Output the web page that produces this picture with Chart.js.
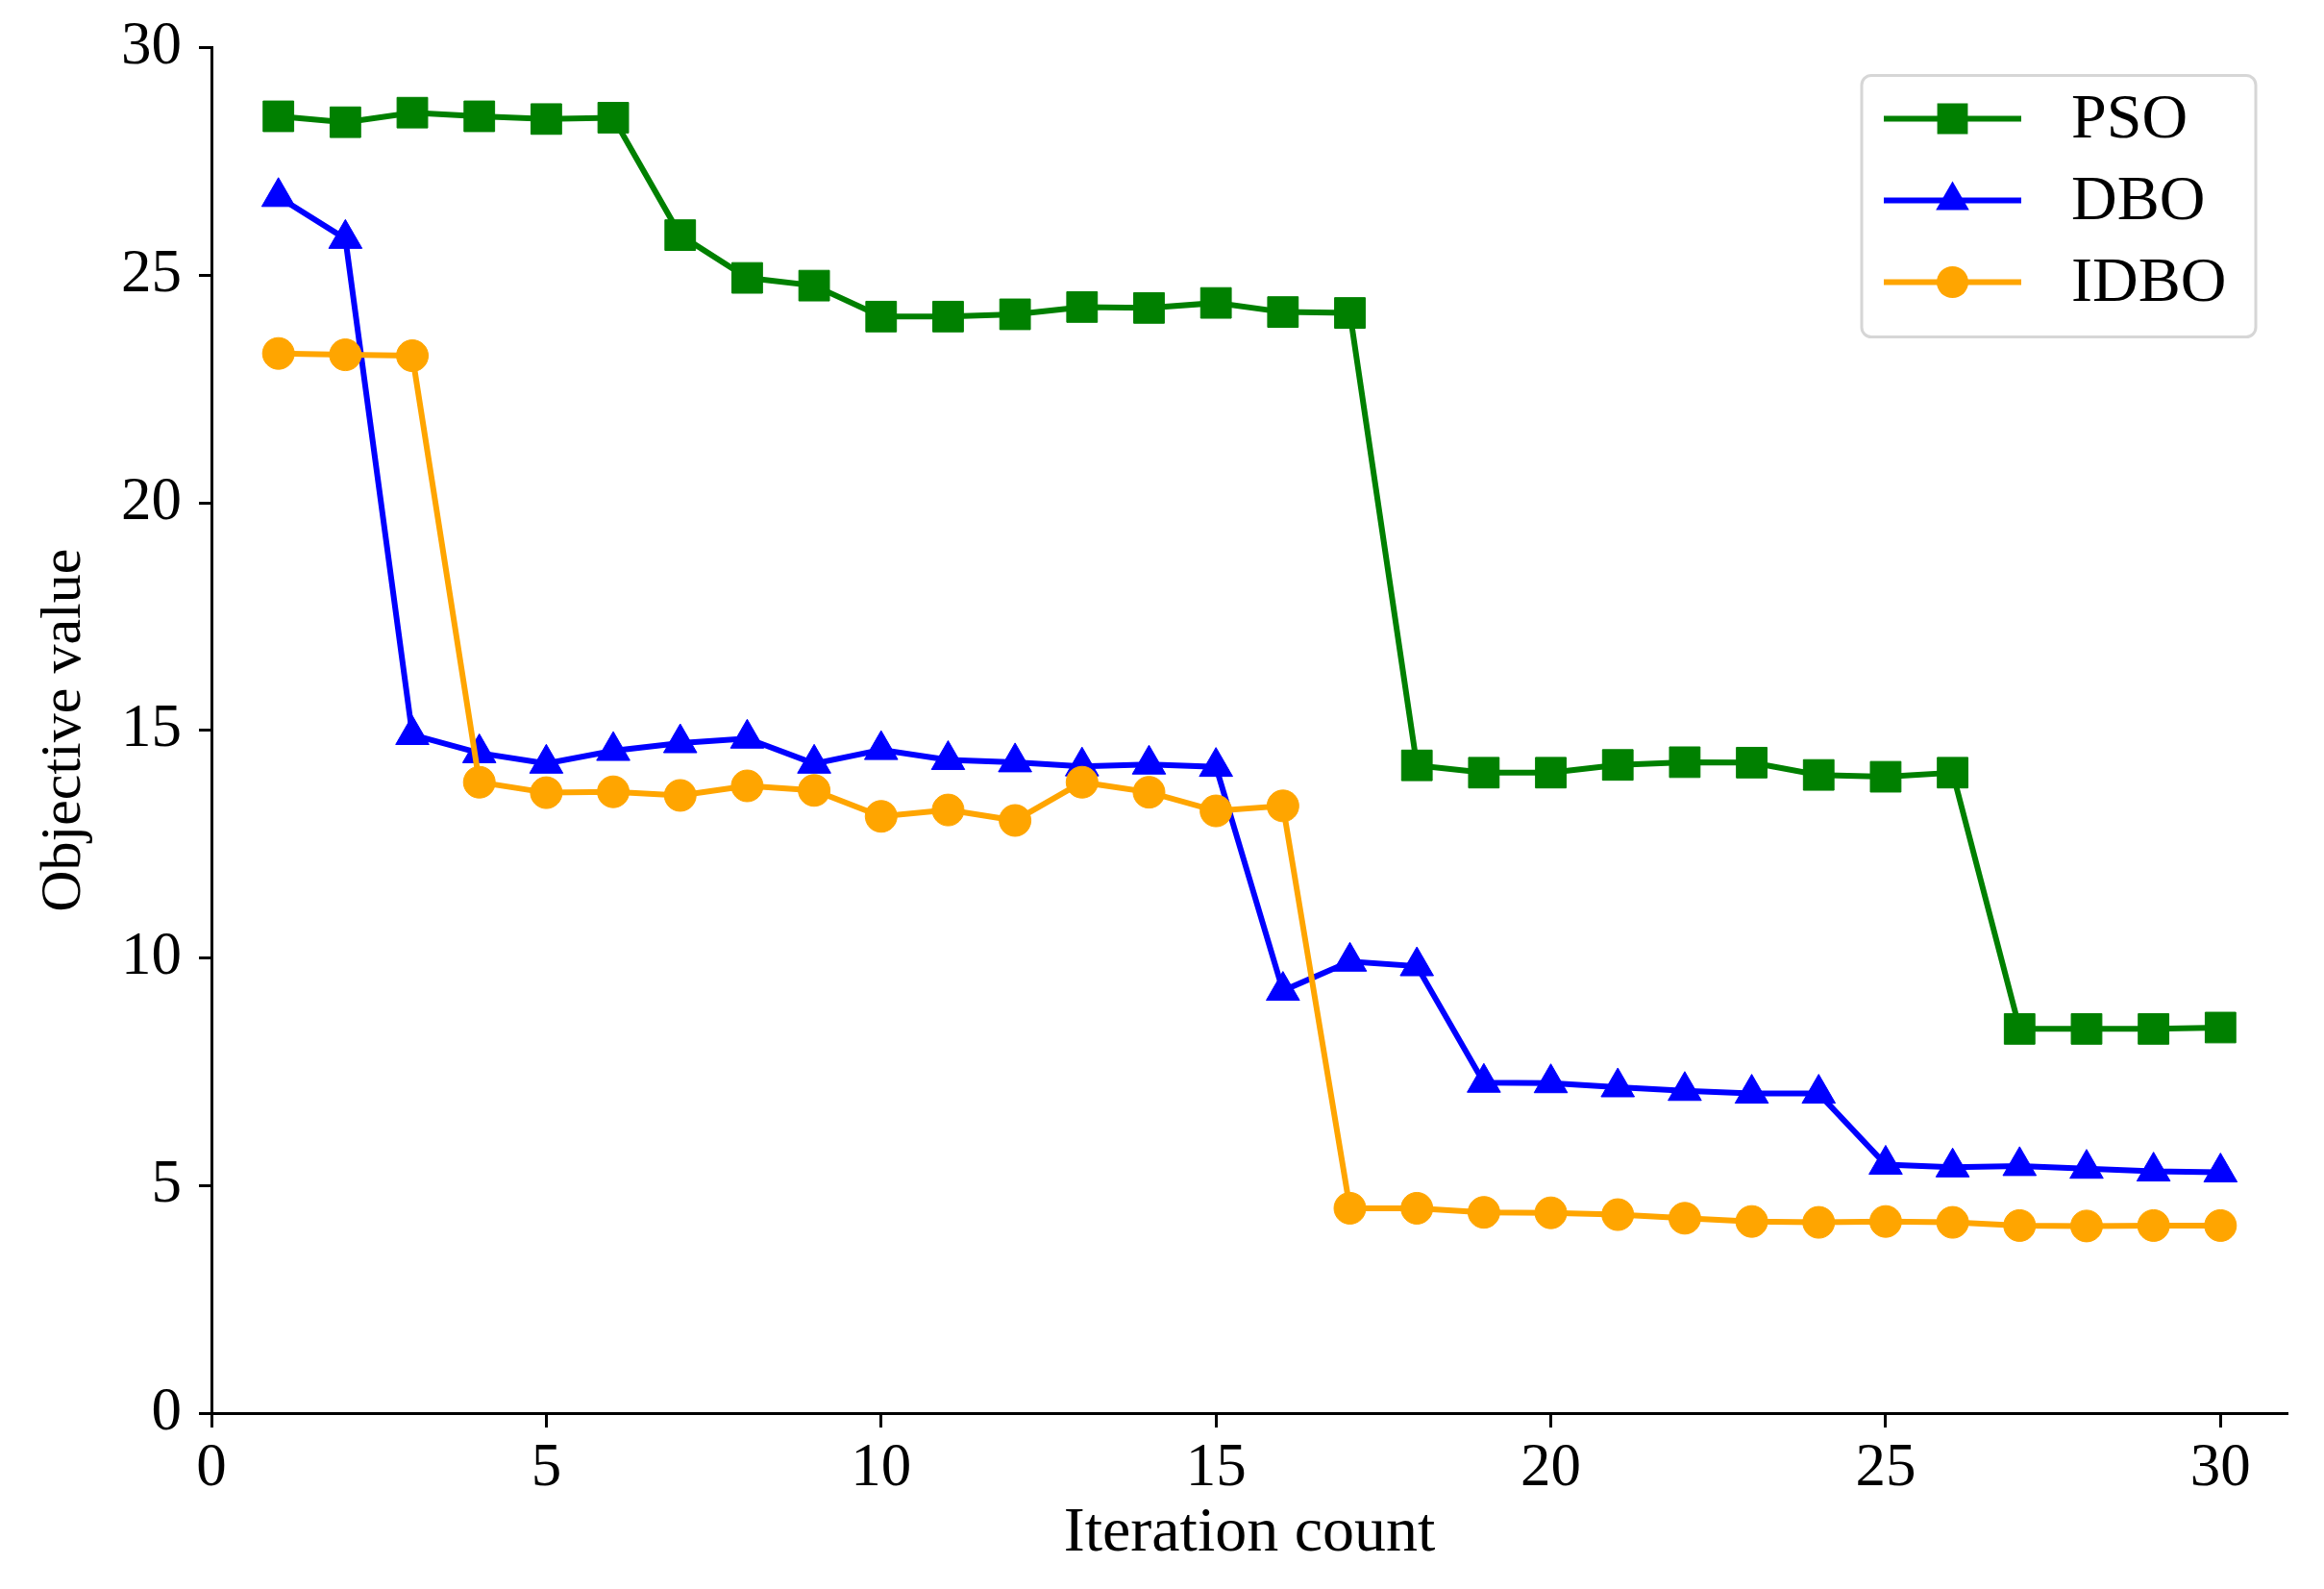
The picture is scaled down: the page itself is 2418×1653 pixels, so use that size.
<!DOCTYPE html>
<html>
<head>
<meta charset="utf-8">
<script src="https://cdn.jsdelivr.net/npm/chart.js@4.4.1/dist/chart.umd.min.js"></script>
<style>
html,body{margin:0;padding:0;background:#ffffff;}
#wrap{width:2418px;height:1653px;position:relative;}
canvas{display:block;}
</style>
</head>
<body>
<div id="wrap"><canvas id="c" width="2418" height="1653"></canvas></div>
<script>
// ---- data ----
const iterations = [1,2,3,4,5,6,7,8,9,10,11,12,13,14,15,16,17,18,19,20,21,22,23,24,25,26,27,28,29,30];
const psoValues  = [28.49,28.36,28.57,28.49,28.43,28.46,25.88,24.94,24.77,24.09,24.09,24.14,24.30,24.28,24.39,24.19,24.17,14.23,14.07,14.07,14.24,14.30,14.29,14.02,13.98,14.07,8.44,8.44,8.44,8.47];
const dboValues  = [26.72,25.80,14.90,14.50,14.27,14.55,14.72,14.82,14.27,14.57,14.35,14.30,14.21,14.25,14.20,9.28,9.92,9.82,7.26,7.25,7.16,7.08,7.02,7.02,5.46,5.40,5.43,5.37,5.31,5.29];
const idboValues = [23.28,23.25,23.23,13.86,13.63,13.65,13.57,13.78,13.68,13.11,13.25,13.02,13.86,13.64,13.23,13.34,4.50,4.50,4.41,4.40,4.36,4.28,4.21,4.19,4.21,4.19,4.12,4.11,4.12,4.12];
const seriesNames = ['PSO','DBO','IDBO'];
const xTicks = [0,5,10,15,20,25,30];
const yTicks = [0,5,10,15,20,25,30];
const xTitle = 'Iteration count';
const yTitle = 'Objective value';

const FONT = "'Liberation Serif', 'Times New Roman', serif";

function toPoints(vals){ return iterations.map((x,i)=>({x:x, y:vals[i]})); }

const styles = [
  {color:'#008000', pointStyle:'rect', radius:22.5},
  {color:'#0000ff', pointStyle:'triangle', radius:20},
  {color:'#ffa500', pointStyle:'circle', radius:16.5}
];
const seriesValues = [psoValues, dboValues, idboValues];

const datasets = seriesNames.map((name,i)=>({
  label: name,
  data: toPoints(seriesValues[i]),
  borderColor: styles[i].color,
  backgroundColor: styles[i].color,
  pointBackgroundColor: styles[i].color,
  pointBorderColor: styles[i].color,
  pointBorderWidth: 1,
  pointStyle: styles[i].pointStyle,
  pointRadius: styles[i].radius,
  pointHoverRadius: styles[i].radius,
  borderWidth: 6,
  tension: 0,
  fill: false,
  clip: false,
  order: 3 - i
}));

function drawMarker(ctx, style, x, y, r, color){
  ctx.save();
  ctx.fillStyle = color;
  ctx.beginPath();
  if (style === 'rect'){
    const s = r / Math.SQRT2;
    ctx.rect(x - s, y - s, 2*s, 2*s);
  } else if (style === 'triangle'){
    let rad = 0;
    ctx.moveTo(x + Math.sin(rad)*r, y - Math.cos(rad)*r);
    rad += 2*Math.PI/3;
    ctx.lineTo(x + Math.sin(rad)*r, y - Math.cos(rad)*r);
    rad += 2*Math.PI/3;
    ctx.lineTo(x + Math.sin(rad)*r, y - Math.cos(rad)*r);
    ctx.closePath();
  } else {
    ctx.arc(x, y, r, 0, Math.PI*2);
  }
  ctx.fill();
  ctx.restore();
}

const legendPlugin = {
  id: 'boxLegend',
  afterDraw(chart){
    const ctx = chart.ctx;
    const ca = chart.chartArea;
    const bx = ca.right - 443, by = ca.top + 29, bw = 410, bh = 272;
    ctx.save();
    ctx.fillStyle = 'rgba(255,255,255,0.85)';
    ctx.strokeStyle = '#d6d6d6';
    ctx.lineWidth = 3;
    ctx.beginPath();
    if (ctx.roundRect) ctx.roundRect(bx, by, bw, bh, 10); else ctx.rect(bx, by, bw, bh);
    ctx.fill();
    ctx.stroke();
    chart.data.datasets.forEach((ds, i)=>{
      const cy = by + 45 + i*85;
      const lx0 = bx + 23, lx1 = bx + 166;
      ctx.strokeStyle = ds.borderColor;
      ctx.lineWidth = ds.borderWidth;
      ctx.beginPath();
      ctx.moveTo(lx0, cy);
      ctx.lineTo(lx1, cy);
      ctx.stroke();
      drawMarker(ctx, ds.pointStyle, (lx0+lx1)/2, cy, ds.pointRadius, ds.pointBackgroundColor);
      ctx.fillStyle = '#000';
      ctx.font = '66px ' + FONT;
      ctx.textBaseline = 'middle';
      ctx.textAlign = 'left';
      ctx.fillText(ds.label, bx + 218, cy + 2);
    });
    ctx.restore();
  }
};

new Chart(document.getElementById('c'), {
  type: 'line',
  data: { datasets },
  plugins: [legendPlugin],
  options: {
    responsive: false,
    animation: false,
    devicePixelRatio: 1,
    layout: { padding: { left: 0, right: 38, top: 40, bottom: 0 } },
    plugins: { legend: { display: false }, tooltip: { enabled: false } },
    scales: {
      x: {
        type: 'linear',
        min: 0, max: 31,
        afterBuildTicks: (s)=>{ s.ticks = xTicks.map(v=>({value:v})); },
        afterFit: (s)=>{ s.height = 183; },
        grid: { display: true, drawOnChartArea: false, drawTicks: true, tickLength: 15, tickWidth: 3, tickColor: '#000' },
        border: { display: true, color: '#000', width: 3 },
        ticks: { color: '#000', font: { family: FONT, size: 63, lineHeight: 1.0 }, padding: 12, maxRotation: 0, autoSkip: false },
        title: { display: true, text: xTitle, color: '#000', font: { family: FONT, size: 66 }, padding: { top: 0, bottom: 18 } }
      },
      y: {
        type: 'linear',
        min: 0, max: 30,
        afterBuildTicks: (s)=>{ s.ticks = yTicks.map(v=>({value:v})); },
        afterFit: (s)=>{ s.width = 220; },
        grid: { display: true, drawOnChartArea: false, drawTicks: true, tickLength: 13, tickWidth: 3, tickColor: '#000' },
        border: { display: true, color: '#000', width: 3 },
        ticks: { color: '#000', font: { family: FONT, size: 63, lineHeight: 1.0 }, padding: 18, autoSkip: false },
        title: { display: true, text: yTitle, color: '#000', font: { family: FONT, size: 60 }, padding: { top: 31, bottom: 0 } }
      }
    }
  }
});
</script>
</body>
</html>
